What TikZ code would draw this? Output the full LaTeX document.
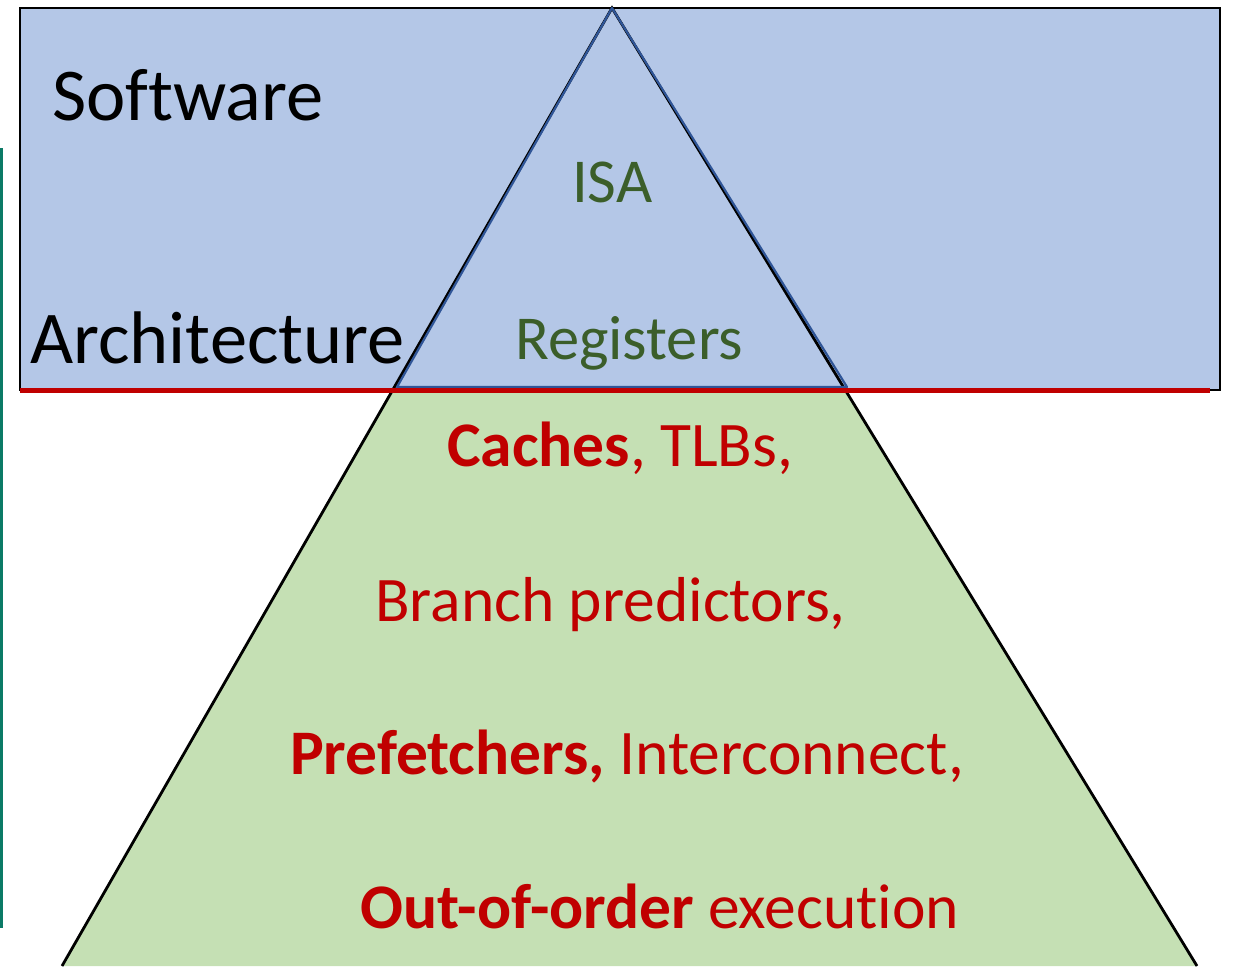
\documentclass[tikz,border=0pt]{standalone}
\usepackage{fontspec}
\setmainfont[Ligatures=NoCommon]{Carlito}
\definecolor{swblue}{HTML}{B4C7E7}
\definecolor{hwgreen}{HTML}{C5E0B4}
\definecolor{hwred}{HTML}{C00000}
\definecolor{isagreen}{HTML}{3B5E2A}
\definecolor{edgeblue}{HTML}{2F5597}
\definecolor{stripteal}{HTML}{0B7A66}
\tikzset{
  big/.style={inner sep=0pt, anchor=base west, font=\fontsize{74.5}{88}\selectfont},
  isatext/.style={inner sep=0pt, anchor=base west, text=isagreen, font=\fontsize{62.5}{74}\selectfont},
  hwtext/.style={inner sep=0pt, anchor=base west, text=hwred, font=\fontsize{63.5}{76}\selectfont},
}
\begin{document}
\begin{tikzpicture}[x=1pt,y=-1pt]
      \useasboundingbox (0,0) rectangle (1233,966);
      \clip (0,0) rectangle (1233,966);
      \coordinate (top) at (612,8);
      \coordinate (botl) at (62,966);
      \coordinate (botr) at (1197,966);
      \coordinate (midl) at (397,387);
      \coordinate (midr) at (847,387);
      \coordinate (swtl) at (20,8);
      \coordinate (swbr) at (1220,390);
      \coordinate (linel) at (20,390);
      \coordinate (liner) at (1210,390);
      % strip at the left edge
      \fill[stripteal] (0,148) rectangle (2.5,928);
      % hardware pyramid and software box
      \fill[hwgreen] (top) -- (botl) -- (botr) -- cycle;
      \draw[fill=swblue, line width=2.8pt] (swtl) rectangle (swbr);
      \draw[line width=2.8pt] (botl) -- (top) -- (botr);
      \draw[edgeblue, line width=2.2pt, line join=round] (top) -- (midl) -- (midr) -- cycle;
      \draw[hwred, line width=5pt] (linel) -- (liner);
      % labels
      \node[big] (sw) at (52,120) {Software};
      \node[big] (arch) at (30,363) {Architecture};
      \node[isatext] (isa) at (572,202) {ISA};
      \node[isatext] (regs) at (515,359) {Registers};
      \node[hwtext] (caches) at (447,466) {\textbf{Caches}, TLBs,};
      \node[hwtext] (bp) at (375,621) {Branch predictors,};
      \node[hwtext] (pf) at (290,774) {\textbf{Prefetchers,} Interconnect,};
      \node[hwtext] (ooo) at (360,928) {\textbf{Out-of-order} execution};
    \end{tikzpicture}
\end{document}
